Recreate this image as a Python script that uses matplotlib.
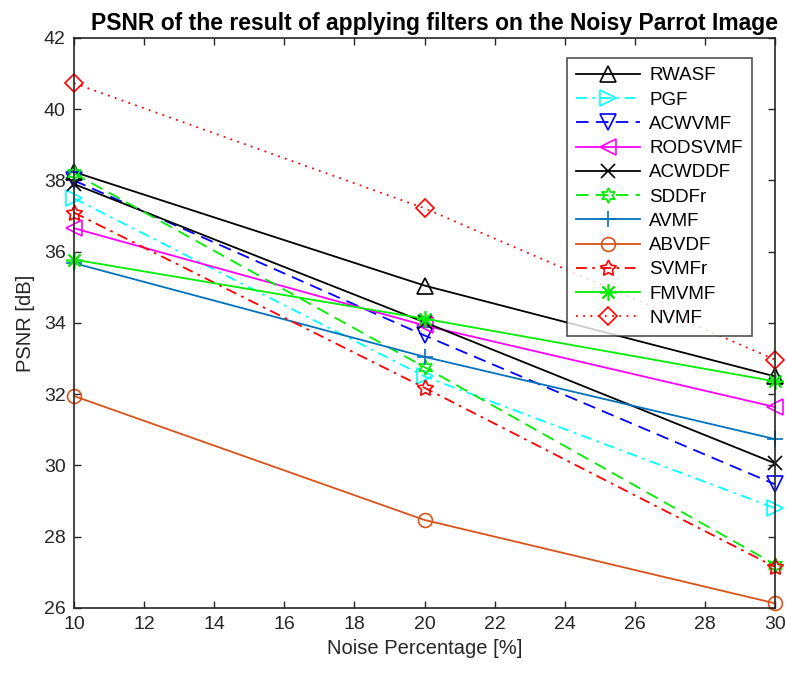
import matplotlib
matplotlib.use("Agg")
import matplotlib.pyplot as plt

noise = [10, 20, 30]
names = ["RWASF", "PGF", "ACWVMF", "RODSVMF", "ACWDDF", "SDDFr",
         "AVMF", "ABVDF", "SVMFr", "FMVMF", "NVMF"]
rwasf = [38.24, 35.05, 32.50]
pgf = [37.50, 32.50, 28.80]
acwvmf = [38.00, 33.65, 29.47]
rodsvmf = [36.66, 33.93, 31.64]
acwddf = [37.90, 34.02, 30.06]
sddfr = [38.20, 32.76, 27.22]
avmf = [35.68, 33.05, 30.74]
abvdf = [31.95, 28.47, 26.13]
svmfr = [37.10, 32.18, 27.15]
fmvmf = [35.78, 34.12, 32.36]
nvmf = [40.73, 37.22, 32.97]
series = [rwasf, pgf, acwvmf, rodsvmf, acwddf, sddfr, avmf, abvdf, svmfr, fmvmf, nvmf]

colors = ["black", "cyan", "blue", "magenta", "black", "#00ee00",
          (0, 0.447, 0.741), (0.85, 0.325, 0.098), "red", "#00ee00", "red"]
styles = ["-", (0, (6, 3, 1.5, 3)), (0, (7, 4)), "-", "-", (0, (7, 4)),
          "-", "-", (0, (6, 3, 1.5, 3)), "-", (0, (1, 3))]
markers = ["^", ">", "v", "<", "x", (6, 1, 0), "+", "o", (5, 1, 0), (8, 2, 0), "D"]
msizes = [11, 11, 11, 11, 10, 11, 12, 10, 12, 12, 9]

plt.rcParams['font.family'] = ['Liberation Sans', 'DejaVu Sans']
fig = plt.figure(figsize=(7.87, 6.76), dpi=100)
ax = fig.add_axes([0.094, 0.1006, 0.891, 0.8432])

for name, ys, c, ls, m, ms in zip(names, series, colors, styles, markers, msizes):
    ax.plot(noise, ys, color=c, linestyle=ls, marker=m, markersize=ms,
            markerfacecolor='none', markeredgecolor=c, markeredgewidth=1.2,
            linewidth=1.3, label=name, clip_on=False)

ax.set_xlim(10, 30)
ax.set_ylim(26, 42)
ax.set_xticks(range(10, 31, 2))
ax.set_yticks(range(26, 43, 2))
ax.tick_params(direction='in', top=True, right=True, labelsize=14,
               length=5, width=1, colors='0.15', pad=6)
for sp in ax.spines.values():
    sp.set_color('0.15')
    sp.set_linewidth(1.2)

ax.set_xlabel("Noise Percentage [%]", fontsize=14.5, color='0.15', labelpad=4)
ax.set_ylabel("PSNR [dB]", fontsize=14.5, color='0.15', labelpad=6)
ax.set_title("PSNR of the result of applying filters on the Noisy Parrot Image",
             fontsize=16.5, fontweight='bold', pad=6, x=0.514)

leg = ax.legend(loc='upper right', bbox_to_anchor=(0.967, 0.965), borderaxespad=0,
                fontsize=13.5, frameon=True, fancybox=False, edgecolor='0.15',
                handlelength=3.4, labelspacing=0.38, borderpad=0.5, handletextpad=0.5)
leg.get_frame().set_linewidth(1.2)

fig.savefig("out.png", dpi=100)
